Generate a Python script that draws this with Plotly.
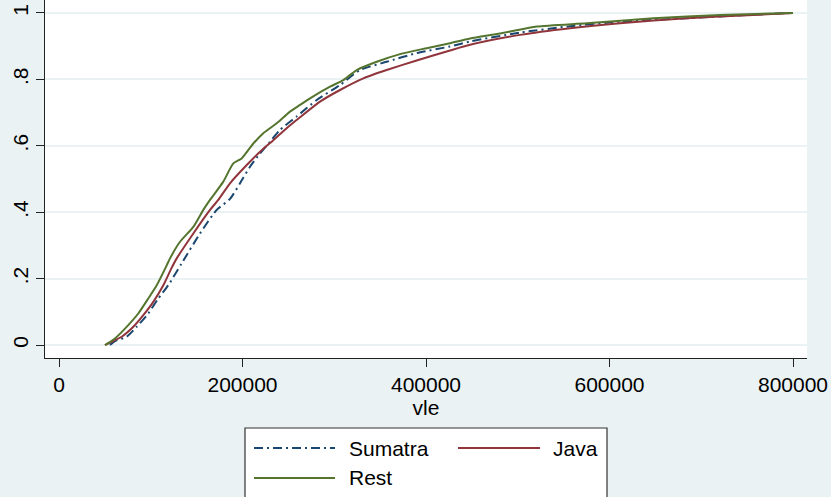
import plotly.graph_objects as go

sumatra_x = [55600, 61000, 73800, 84700, 97300, 108200, 119100, 133700, 153700,
             171900, 186400, 197300, 208200, 219100, 230000, 240900, 259000, 280900,
             306300, 328100, 357100, 389800, 426200, 448000, 502500, 557000, 611500,
             684200, 756800, 800000]
sumatra_y = [0.0, 0.012, 0.025, 0.055, 0.095, 0.14, 0.18, 0.246, 0.336,
             0.407, 0.44, 0.487, 0.537, 0.577, 0.612, 0.648, 0.688, 0.738,
             0.783, 0.828, 0.853, 0.879, 0.899, 0.914, 0.941, 0.96, 0.974,
             0.984, 0.995, 1.0]

java_x = [50100, 59000, 68300, 81000, 91900, 102800, 113700, 122500, 128300, 146400,
          164600, 173600, 186400, 204600, 219100, 233600, 248100, 262700, 284500,
          306300, 331700, 357100, 389800, 426200, 448000, 502500, 557000, 611500,
          684200, 756800, 800000]
java_y = [0.0, 0.012, 0.025, 0.055, 0.09, 0.13, 0.18, 0.231, 0.261, 0.336,
          0.407, 0.437, 0.487, 0.542, 0.582, 0.617, 0.653, 0.686, 0.733,
          0.768, 0.803, 0.828, 0.857, 0.887, 0.904, 0.934, 0.954, 0.969,
          0.984, 0.994, 1.0]

rest_x = [50100, 61000, 75500, 86400, 97300, 106500, 117400, 121000, 131900, 146400,
          157300, 164600, 179100, 190000, 199100, 211800, 222700, 237300, 251800,
          262700, 273600, 295400, 309900, 324500, 346300, 371700, 400800, 426200,
          448000, 480700, 520700, 575200, 647800, 720500, 800000]
rest_y = [0.0, 0.02, 0.06, 0.095, 0.14, 0.18, 0.24, 0.261, 0.311, 0.356,
          0.407, 0.437, 0.492, 0.547, 0.562, 0.607, 0.638, 0.668, 0.703,
          0.723, 0.743, 0.778, 0.798, 0.828, 0.853, 0.876, 0.894, 0.909,
          0.923, 0.938, 0.959, 0.969, 0.984, 0.994, 1.0]

series_names = ["Sumatra", "Java", "Rest"]
x_ticks = [0, 200000, 400000, 600000, 800000]
x_tick_labels = ["0", "200000", "400000", "600000", "800000"]
y_ticks = [0, 0.2, 0.4, 0.6, 0.8, 1.0]
y_tick_labels = ["0", ".2", ".4", ".6", ".8", "1"]
x_title = "vle"

# ---- styles ----
W, H = 831, 497
ML, MR, MT, MB = 45, 24, 0, 139
BG = "#EAF2F3"
NAVY, MAROON, GREEN = "#1A476F", "#90353B", "#55752F"
DASHDOT = "9px,4px,2px,4px"
FONT = "Liberation Sans, Arial, Helvetica, sans-serif"
FS = 21
LW = 2

colors = [NAVY, MAROON, GREEN]
dashes = [DASHDOT, "solid", "solid"]

fig = go.Figure()
for name, xs, ys, c, d in zip(series_names, [sumatra_x, java_x, rest_x],
                              [sumatra_y, java_y, rest_y], colors, dashes):
    fig.add_trace(go.Scatter(x=xs, y=ys, mode="lines", name=name,
                             line=dict(color=c, width=LW, dash=d,
                                       shape="spline", smoothing=0.6),
                             showlegend=False))

pw = W - ML - MR
ph = H - MT - MB


def px2x(px):
    return (px - ML) / pw


def py2y(py):
    return (H - MB - py) / ph


# manual legend (two columns, Stata style)
shapes = [dict(type="rect", xref="paper", yref="paper",
               x0=px2x(245), x1=px2x(607), y0=py2y(499), y1=py2y(428),
               line=dict(color="#333333", width=1.2), fillcolor="white", layer="above")]
entries = [(series_names[0], 254, 335, 347, 448, NAVY, DASHDOT),
           (series_names[1], 458, 540, 551, 448, MAROON, "solid"),
           (series_names[2], 254, 335, 347, 478, GREEN, "solid")]
annotations = []
for name, lx0, lx1, tx, yy, c, d in entries:
    shapes.append(dict(type="line", xref="paper", yref="paper",
                       x0=px2x(lx0), x1=px2x(lx1), y0=py2y(yy), y1=py2y(yy),
                       line=dict(color=c, width=LW, dash=d), layer="above"))
    annotations.append(dict(text=name, xref="paper", yref="paper",
                            x=px2x(tx), y=py2y(yy), xanchor="left", yanchor="middle",
                            showarrow=False, font=dict(family=FONT, size=FS, color="black")))

fig.update_layout(
    width=W, height=H,
    margin=dict(l=ML, r=MR, t=MT, b=MB, pad=0),
    paper_bgcolor=BG, plot_bgcolor="white",
    font=dict(family=FONT, size=FS, color="black"),
    shapes=shapes, annotations=annotations,
    xaxis=dict(range=[-15260, 815260], tickvals=x_ticks, ticktext=x_tick_labels,
               showgrid=False, zeroline=False, showline=True, linecolor="#222222",
               linewidth=1.2, ticks="outside", ticklen=8, tickwidth=1.2,
               tickcolor="#222222", automargin=False,
               title=dict(text=x_title, standoff=0, font=dict(size=FS))),
    yaxis=dict(range=[-0.039, 1.039], tickvals=y_ticks, ticktext=y_tick_labels,
               tickangle=-90, showgrid=True, gridcolor=BG, gridwidth=1.5,
               zeroline=False, showline=True, linecolor="#222222", linewidth=1.2,
               ticks="outside", ticklen=8, tickwidth=1.2, tickcolor="#222222",
               automargin=False),
)

fig.write_html("out.html")
